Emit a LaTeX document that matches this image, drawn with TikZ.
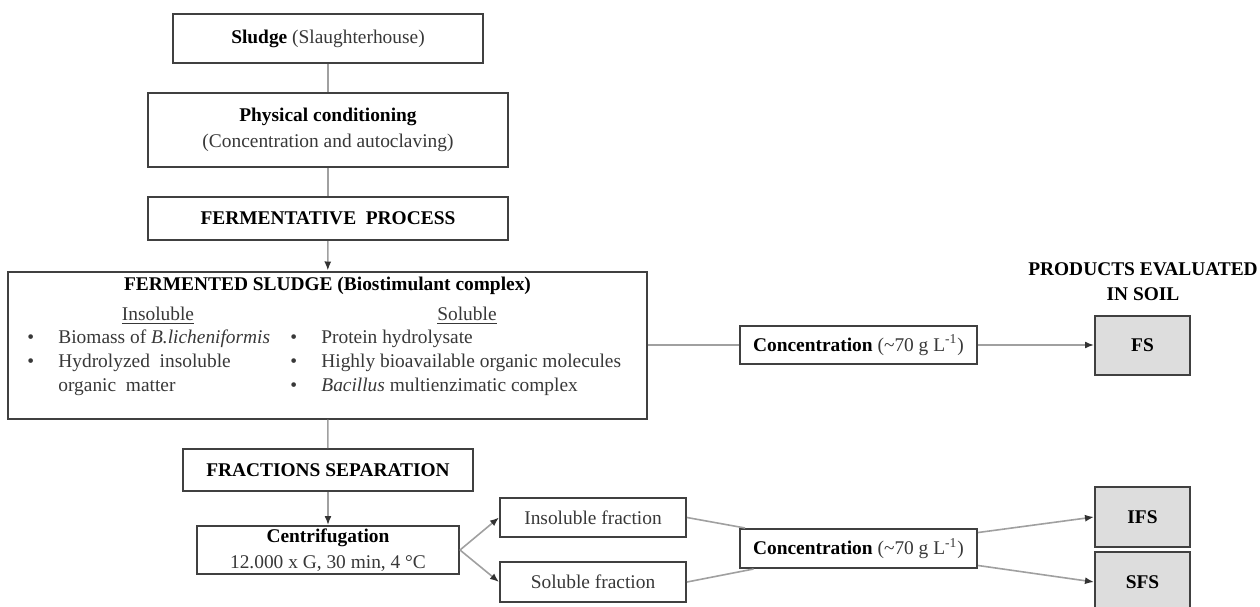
\documentclass[tikz,border=0pt]{standalone}
\usepackage{fontspec}
\setmainfont{Liberation Serif}
\usepackage{xcolor}
\usetikzlibrary{arrows.meta}
\definecolor{boxline}{HTML}{404040}
\definecolor{linkline}{HTML}{A0A0A0}
\definecolor{prodfill}{HTML}{DDDDDD}
\definecolor{txt}{HTML}{383838}
\def\itm#1{\makebox[15.5pt][l]{\textbullet}#1}

\begin{document}
\begin{tikzpicture}[x=0.5pt,y=-0.5pt,
	font=\fontsize{9.7}{13}\selectfont,
	box/.style={draw=boxline,line width=1pt,fill=white,inner sep=0pt,align=center,text=txt},
	prod/.style={box,fill=prodfill,font=\fontsize{9.7}{13}\selectfont\bfseries,text=black},
	link/.style={draw=linkline,line width=0.8pt},
	arr/.style={link,-{Latex[length=4.5pt,width=3.5pt,color=black!80]}},
	lbl/.style={inner sep=0pt,text=txt,anchor=west}]
	\useasboundingbox (0,0) rectangle (1260,606);
	% main column
	\node[box,minimum width=155pt,minimum height=24.5pt] (sludge) at (328,38.5) {\textbf{\color{black}Sludge} (Slaughterhouse)};
	\node[box,minimum width=180pt,minimum height=37pt] (phys) at (328,130) {\textbf{\color{black}Physical conditioning}\\(Concentration and autoclaving)};
	\node[box,minimum width=180pt,minimum height=21.5pt] (ferm) at (328,218.5) {\textbf{\color{black}FERMENTATIVE\ \ PROCESS}};
	\node[box,minimum width=319.5pt,minimum height=73.5pt] (fermented) at (327.5,345) {};
	\node[box,minimum width=145pt,minimum height=21pt] (fract) at (328,470) {\textbf{\color{black}FRACTIONS SEPARATION}};
	\node[box,minimum width=131pt,minimum height=24pt] (centr) at (328,550) {\textbf{\color{black}Centrifugation}\\12.000 x G, 30 min, 4 °C};
	% content of the fermented sludge box
	\node[inner sep=0pt,font=\fontsize{9.7}{13}\selectfont\bfseries] (ftitle) at (327.5,286) {FERMENTED SLUDGE (Biostimulant complex)};
	\node[inner sep=0pt,text=txt] (insh) at (158,316) {\underline{Insoluble}};
	\node[inner sep=0pt,text=txt] (solh) at (467,316) {\underline{Soluble}};
	\node[lbl] (ins1) at (27,339) {\itm{Biomass of \textit{B.licheniformis}}};
	\node[lbl] (ins2) at (27,363) {\itm{Hydrolyzed\ \ insoluble}};
	\node[lbl] (ins3) at (58,387) {organic\ \ matter};
	\node[lbl] (sol1) at (290,339) {\itm{Protein hydrolysate}};
	\node[lbl] (sol2) at (290,363) {\itm{Highly\ bioavailable\ organic\ molecules}};
	\node[lbl] (sol3) at (290,387) {\itm{\textit{Bacillus} multienzimatic complex}};
	% fractions and concentration
	\node[box,minimum width=93pt,minimum height=19.5pt] (insol) at (593,517.5) {Insoluble fraction};
	\node[box,minimum width=93pt,minimum height=20pt] (sol) at (593,582) {Soluble fraction};
	\node[box,minimum width=118.5pt,minimum height=19pt] (conc1) at (858.5,345) {\textbf{\color{black}Concentration} (\textasciitilde70 g L\textsuperscript{-1})};
	\node[box,minimum width=118.5pt,minimum height=19.5pt] (conc2) at (858.5,548.5) {\textbf{\color{black}Concentration} (\textasciitilde70 g L\textsuperscript{-1})};
	% products
	\node[inner sep=0pt,align=center,font=\fontsize{9.7}{12.5}\selectfont\bfseries] (ptitle) at (1143,281.5) {PRODUCTS EVALUATED\\IN SOIL};
	\node[prod,minimum width=47.5pt,minimum height=29.5pt] (fs) at (1142.5,345) {FS};
	\node[prod,minimum width=47.5pt,minimum height=30pt] (ifs) at (1142.5,517) {IFS};
	\node[prod,minimum width=47.5pt,minimum height=30pt] (sfs) at (1142.5,582) {SFS};
	% connectors
	\draw[link] (sludge) -- (phys);
	\draw[link] (phys) -- (ferm);
	\draw[arr] (ferm) -- (fermented);
	\draw[link] (fermented) -- (fract);
	\draw[arr] (fract) -- (centr);
	\draw[arr] (centr.east) -- (insol.west);
	\draw[arr] (centr.east) -- (sol.west);
	\draw[link] (insol.east) -- (conc2);
	\draw[link] (sol.east) -- (conc2);
	\draw[link] (fermented) -- (conc1);
	\draw[arr] (conc1) -- (fs);
	\draw[arr] (conc2) -- (ifs.west);
	\draw[arr] (conc2) -- (sfs.west);
\end{tikzpicture}
\end{document}
